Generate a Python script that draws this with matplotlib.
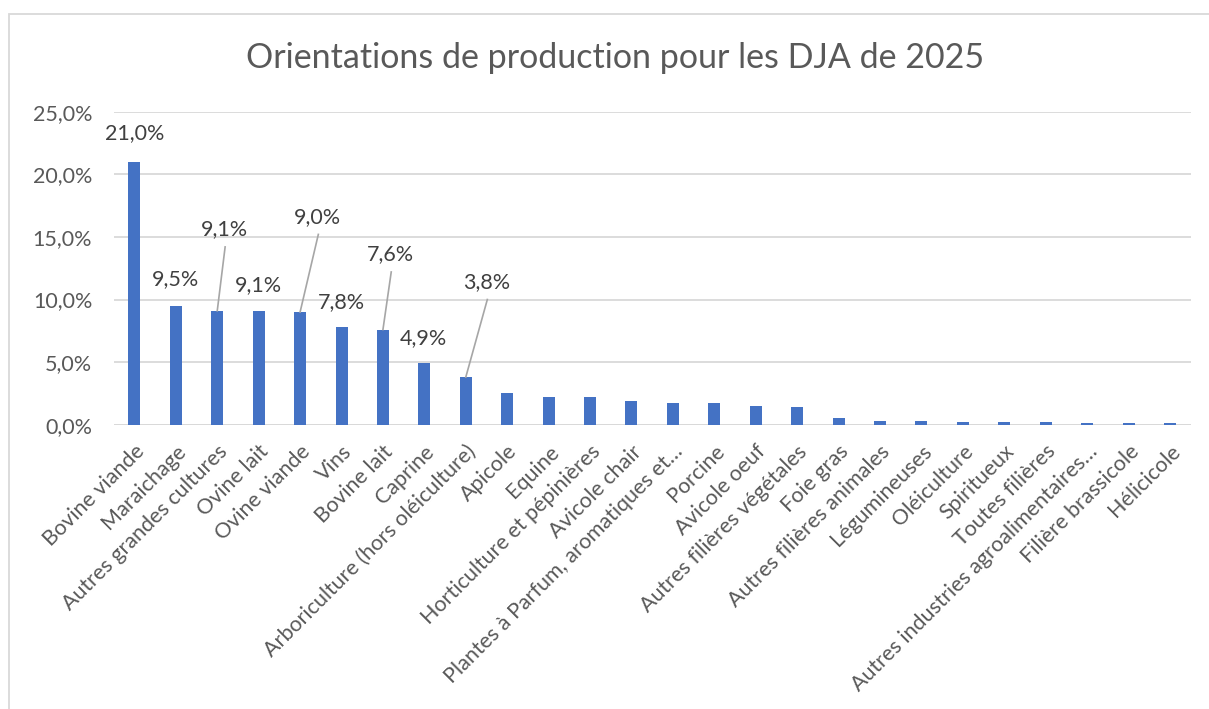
import matplotlib
matplotlib.use("Agg")
import matplotlib.pyplot as plt
from matplotlib.patches import Rectangle

plt.rcParams['font.family'] = ['Lato', 'DejaVu Sans']

categories = [
    "Bovine viande", "Maraichage", "Autres grandes cultures", "Ovine lait",
    "Ovine viande", "Vins", "Bovine lait", "Caprine",
    "Arboriculture (hors oléiculture)", "Apicole", "Equine",
    "Horticulture et pépinières", "Avicole chair",
    "Plantes à Parfum, aromatiques et…", "Porcine", "Avicole oeuf",
    "Autres filières végétales", "Foie gras", "Autres filières animales",
    "Légumineuses", "Oléiculture", "Spiritueux", "Toutes filières",
    "Autres industries agroalimentaires…", "Filière brassicole", "Hélicicole",
]
values = [21.0, 9.5, 9.1, 9.1, 9.0, 7.8, 7.6, 4.9, 3.8, 2.5, 2.2, 2.2, 1.9,
          1.75, 1.75, 1.5, 1.4, 0.55, 0.3, 0.3, 0.2, 0.2, 0.2, 0.1, 0.1, 0.1]
labelled = [0, 1, 2, 3, 4, 5, 6, 7, 8]
yticks = [0, 5, 10, 15, 20, 25]
ytick_labels = ["0,0%", "5,0%", "10,0%", "15,0%", "20,0%", "25,0%"]
title = "Orientations de production pour les DJA de 2025"

# label placement (offsets in data units) and whether a leader line is drawn
label_pos = {
    0: (0.0, 23.3, False),
    1: (1.0, 11.6, False),
    2: (2.18, 15.6, True),
    3: (3.0, 11.15, False),
    4: (4.43, 16.6, True),
    5: (4.99, 9.8, False),
    6: (6.19, 13.6, True),
    7: (6.98, 6.9, False),
    8: (8.51, 11.4, True),
}

W, H = 1209, 709
fig = plt.figure(figsize=(W / 100, H / 100), dpi=100)
fig.patch.set_facecolor("white")

ax = fig.add_axes([113.7 / W, 1 - 424.7 / H, (1190.7 - 113.7) / W, (424.7 - 111.7) / H])
x = list(range(len(categories)))
ax.bar(x, values, width=0.29, color="#4472C4", zorder=3)
ax.set_xlim(-0.5, len(categories) - 0.5)
ax.set_ylim(0, 25)
ax.set_yticks(yticks)
ax.set_yticklabels(ytick_labels)
ax.yaxis.grid(True, color="#D9D9D9", linewidth=1.3, zorder=0)
ax.set_axisbelow(True)
for s in ax.spines.values():
    s.set_visible(False)
ax.tick_params(axis="both", length=0, labelsize=15.5, labelcolor="#595959")
ax.tick_params(axis="y", pad=15.5)
ax.set_xticks(x)
ax.set_xticklabels(categories, rotation=45, ha="right", va="top",
                   rotation_mode="anchor")
ax.tick_params(axis="x", pad=12)
ax.axhline(0, color="#D9D9D9", linewidth=1.3, zorder=2)

for i in labelled:
    lx, ly, line = label_pos[i]
    txt = f"{values[i]:.1f}%".replace(".", ",")
    ax.text(lx, ly, txt, ha="center", va="center", fontsize=15.5, color="#404040",
            zorder=5)
    if line:
        ax.plot([lx + 0.01, i], [ly - 1.4, values[i]], color="#A6A6A6",
                linewidth=1.2, zorder=4)

fig.text(615 / W, 1 - 58 / H, title, ha="center", va="center",
         fontsize=24.5, color="#595959")

fig.add_artist(Rectangle((8.5 / W, -0.05), 1.2, 1 - 13.5 / H + 0.05,
                         transform=fig.transFigure, fill=False,
                         edgecolor="#D9D9D9", linewidth=1.3))

fig.savefig("out.png", dpi=100)
